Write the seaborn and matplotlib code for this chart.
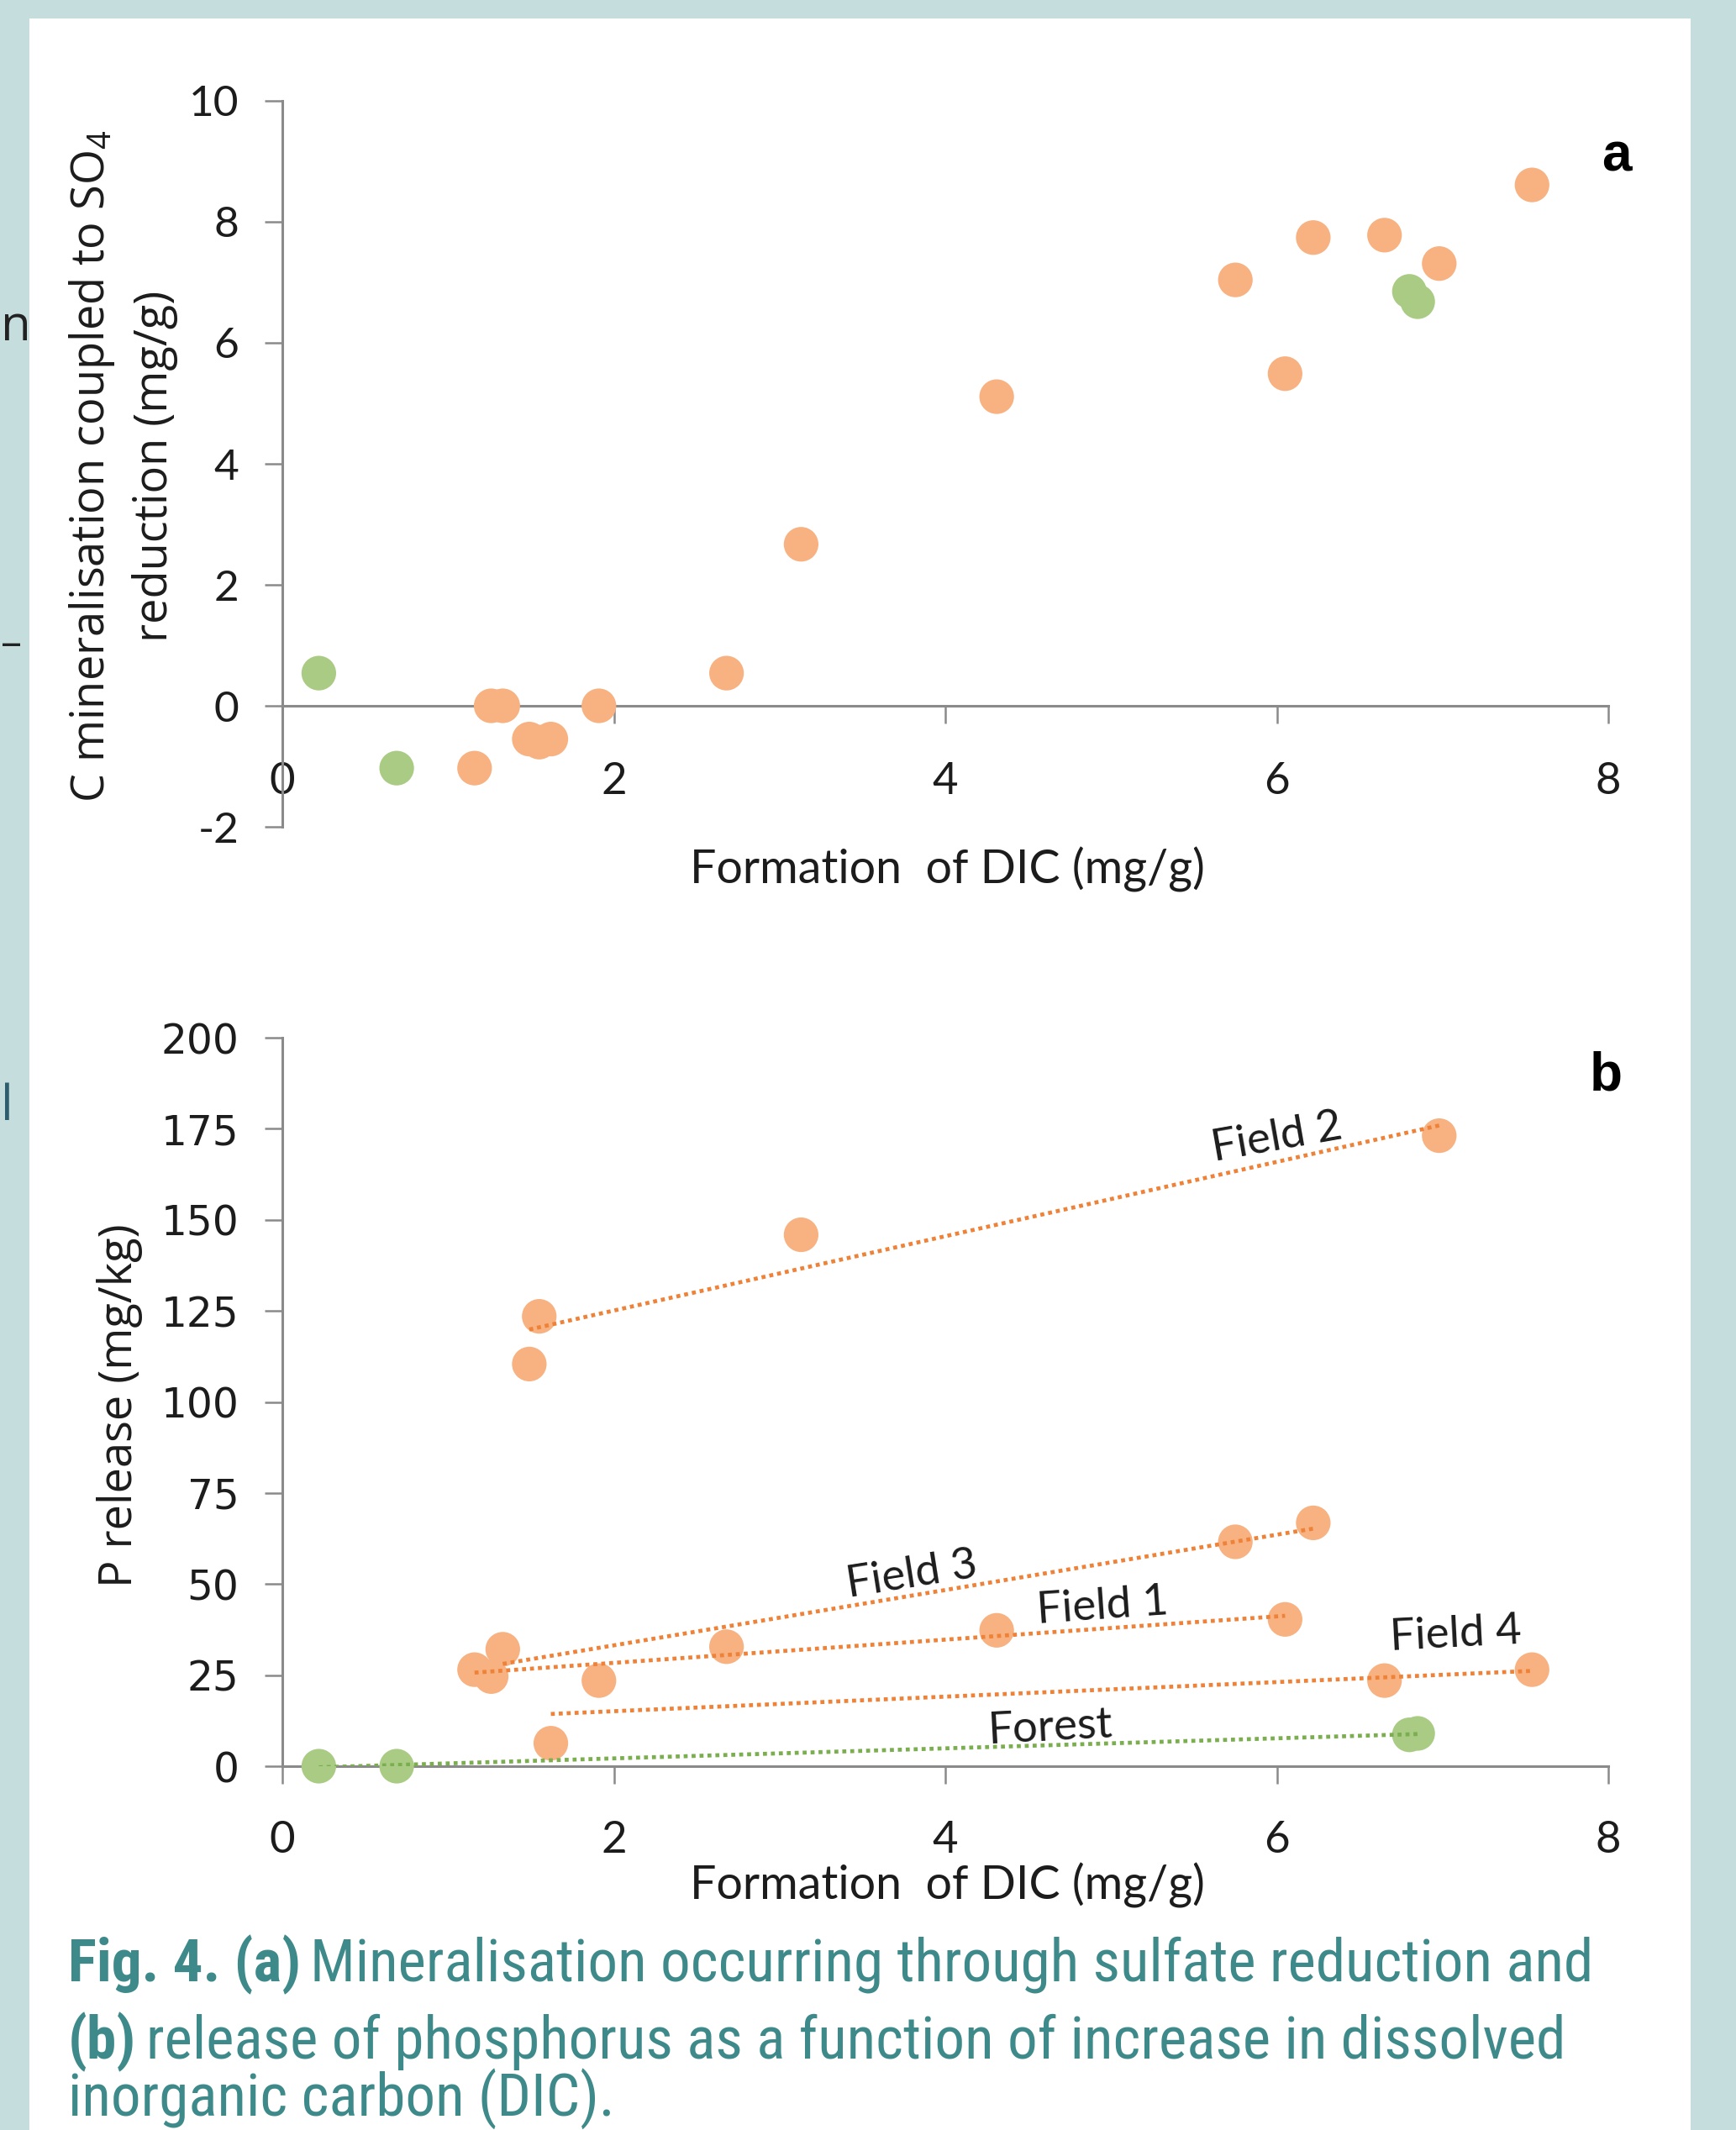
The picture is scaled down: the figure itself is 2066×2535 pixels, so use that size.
import numpy as np
import pandas as pd
import matplotlib
matplotlib.use('Agg')
import matplotlib.pyplot as plt
import seaborn as sns
from matplotlib import font_manager as fm
from matplotlib.patches import Rectangle

# ---------------- data ----------------
site = (['Field 1'] * 4 + ['Field 2'] * 4 + ['Field 3'] * 4 +
        ['Field 4'] * 4 + ['Forest'] * 4)
dic = [1.16, 1.26, 4.31, 6.05,
       1.49, 1.55, 3.13, 6.98,
       1.33, 2.68, 5.75, 6.22,
       1.62, 1.91, 6.65, 7.54,
       0.22, 0.69, 6.80, 6.85]
c_sulfate = [-1.03, 0.0, 5.11, 5.49,
             -0.55, -0.60, 2.67, 7.31,
             0.0, 0.54, 7.04, 7.74,
             -0.55, 0.0, 7.78, 8.61,
             0.54, -1.03, 6.85, 6.68]
p_release = [26.5, 24.6, 37.3, 40.3,
             110.4, 123.5, 145.9, 173.1,
             32.1, 32.8, 61.6, 66.8,
             6.3, 23.5, 23.5, 26.5,
             0.0, 0.0, 8.6, 9.0]
trend_labels = ['Field 2', 'Field 3', 'Field 1', 'Field 4', 'Forest']
xticks = [0, 2, 4, 6, 8]
yticks_a = [-2, 0, 2, 4, 6, 8, 10]
yticks_b = [0, 25, 50, 75, 100, 125, 150, 175, 200]

df = pd.DataFrame({'site': site, 'dic': dic, 'c_sulfate': c_sulfate, 'p_release': p_release})

# ---------------- style ----------------
W, H = 2066, 2535
ORANGE = '#F8B180'
GREEN = '#A9CB83'
ORANGE_LINE = '#EE8238'
GREEN_LINE = '#7BAE4E'
AXIS = '#8A8A8A'
TEAL = '#3E8A8A'
TXT = '#1C1C1C'
palette = {'Field 1': ORANGE, 'Field 2': ORANGE, 'Field 3': ORANGE,
           'Field 4': ORANGE, 'Forest': GREEN}
line_colors = {'Field 1': ORANGE_LINE, 'Field 2': ORANGE_LINE, 'Field 3': ORANGE_LINE,
               'Field 4': ORANGE_LINE, 'Forest': GREEN_LINE}

# pick a condensed font for the caption if one is installed
names = {f.name for f in fm.fontManager.ttflist}
cap_family, cap_stretch = 'Liberation Sans', 'normal'
for cand in ('Roboto Condensed', 'Liberation Sans Narrow', 'Open Sans Condensed',
             'Arial Narrow', 'Nimbus Sans Narrow'):
    if cand in names:
        cap_family = cand
        break
else:
    for f in fm.fontManager.ttflist:
        if f.stretch in ('condensed', 'semi-condensed') and f.name in ('DejaVu Sans', 'Roboto', 'Open Sans', 'Noto Sans'):
            cap_family, cap_stretch = f.name, f.stretch
            break

sns.set_style('ticks')
plt.rcParams['font.family'] = ['Lato', 'DejaVu Sans']
plt.rcParams['mathtext.default'] = 'regular'
plt.rcParams['axes.unicode_minus'] = False

fig = plt.figure(figsize=(W / 100, H / 100), dpi=100)
fig.patch.set_facecolor('#C6DDDD')
fig.add_artist(Rectangle((35 / W, 0), (2012 - 35) / W, (H - 22) / H,
                         transform=fig.transFigure, facecolor='white',
                         edgecolor='none', zorder=-10))

def fx(px):
    return px / W

def fy(py):
    return 1 - py / H

ax_a = fig.add_axes([fx(336), fy(984), fx(1914) - fx(336), fy(120) - fy(984)])
ax_b = fig.add_axes([fx(336), fy(2102), fx(1914) - fx(336), fy(1235) - fy(2102)])

for ax in (ax_a, ax_b):
    ax.set_facecolor('none')
    for s in ('top', 'right'):
        ax.spines[s].set_visible(False)
    for s in ('left', 'bottom'):
        ax.spines[s].set_color(AXIS)
        ax.spines[s].set_linewidth(2.2)
    ax.tick_params(axis='both', direction='out', length=15, width=1.8,
                   color=AXIS, labelcolor=TXT)
    ax.tick_params(axis='y', pad=22, labelsize=37)

# ---- panel a ----
sns.scatterplot(data=df, x='dic', y='c_sulfate', hue='site', palette=palette,
                s=880, linewidth=0, legend=False, ax=ax_a, zorder=3)
ax_a.set_xlim(0, 8)
ax_a.set_ylim(-2, 10)
ax_a.set_xticks(xticks)
ax_a.set_yticks(yticks_a)
ax_a.spines['bottom'].set_position(('data', 0))
ax_a.tick_params(axis='x', pad=33, labelsize=38)
ax_a.set_xlabel('')
ax_a.set_ylabel('')
for c in ax_a.collections:
    c.set_clip_on(False)

# ---- panel b ----
sns.scatterplot(data=df, x='dic', y='p_release', hue='site', palette=palette,
                s=880, linewidth=0, legend=False, ax=ax_b, zorder=3)
for name in trend_labels:
    sub = df[df['site'] == name]
    sns.regplot(data=sub, x='dic', y='p_release', scatter=False, ci=None,
                truncate=True, color=line_colors[name], ax=ax_b,
                line_kws=dict(lw=3.4, ls=(0, (1, 1)), zorder=4))
ax_b.set_xlim(0, 8)
ax_b.set_ylim(0, 200)
ax_b.set_xticks(xticks)
ax_b.set_yticks(yticks_b)
ax_b.tick_params(axis='x', pad=32, labelsize=38)
ax_b.set_xlabel('')
ax_b.set_ylabel('')
for c in ax_b.collections:
    c.set_clip_on(False)
for lab in ax_b.get_yticklabels():
    lab.set_fontfamily('DejaVu Sans')
    lab.set_fontsize(35)

# trend line labels
label_pos = {'Field 2': (6.0, 172.5, 10), 'Field 3': (3.8, 52.5, 9),
             'Field 1': (4.95, 43.8, 4), 'Field 4': (7.08, 36.2, 3),
             'Forest': (4.63, 10.4, 3)}
for name in trend_labels:
    x, y, rot = label_pos[name]
    ax_b.text(x, y, name, fontsize=38, color=TXT, rotation=rot,
              ha='center', va='center', rotation_mode='anchor', zorder=5)

# panel letters
fig.text(fx(1924), fy(186), 'a', fontsize=46, fontweight='bold', color='black',
         family='Liberation Sans', ha='center', va='center')
fig.text(fx(1911), fy(1280), 'b', fontsize=46, fontweight='bold', color='black',
         family='Liberation Sans', ha='center', va='center')

# axis titles
fig.text(fx(1127), fy(1035), 'Formation  of DIC (mg/g)', fontsize=40, color=TXT,
         ha='center', va='center')
fig.text(fx(1127), fy(2244), 'Formation  of DIC (mg/g)', fontsize=40, color=TXT,
         ha='center', va='center')
fig.text(fx(146), fy(555), 'C mineralisation coupled to SO$_4$\nreduction (mg/g)',
         fontsize=39, color=TXT, family='Open Sans', rotation=90, ha='center',
         va='center', multialignment='center', linespacing=1.45)
fig.text(fx(142), fy(1673), 'P release (mg/kg)', fontsize=39, color=TXT,
         family='Open Sans', rotation=90, ha='center', va='center')

# fragments of the neighbouring column at the left edge
fig.text(fx(1), fy(390), 'n', fontsize=42, color='#222222', family='Open Sans',
         ha='left', va='center')
fig.text(fx(1), fy(768), '\u2013', fontsize=36, color='#222222', family='Open Sans',
         ha='left', va='center')
fig.text(fx(1), fy(1318), 'l', fontsize=42, color='#2E5E6E', family='Open Sans',
         ha='left', va='center')

# caption with bold parts; size fitted so the first line spans the reference width
renderer = fig.canvas.get_renderer()
caption_lines = [
    ([('Fig. 4. (a)', True), ('Mineralisation occurring through sulfate reduction and', False)], 2358),
    ([('(b)', True), ('release of phosphorus as a function of increase in dissolved', False)], 2450),
    ([('inorganic carbon (DIC).', False)], 2518),
]

def draw_line(parts, base, fs):
    x = fx(81)
    arts = []
    for txt, bold in parts:
        t = fig.text(x, fy(base), txt, fontsize=fs, color=TEAL, family=cap_family,
                     fontstretch=cap_stretch,
                     fontweight='bold' if bold else 'normal', ha='left', va='baseline')
        bb = t.get_window_extent(renderer=renderer)
        x = (bb.x1 + fs * 0.22) / W
        arts.append(t)
    return arts, bb.x1

probe, right = draw_line(caption_lines[0][0], caption_lines[0][1], 40)
for a in probe:
    a.remove()
cap_fs = 40 * (1895 - 81) / (right - 81)
cap_fs = min(cap_fs, 52)
for parts, base in caption_lines:
    draw_line(parts, base, cap_fs)

fig.savefig('out.png', dpi=100, facecolor=fig.get_facecolor())
